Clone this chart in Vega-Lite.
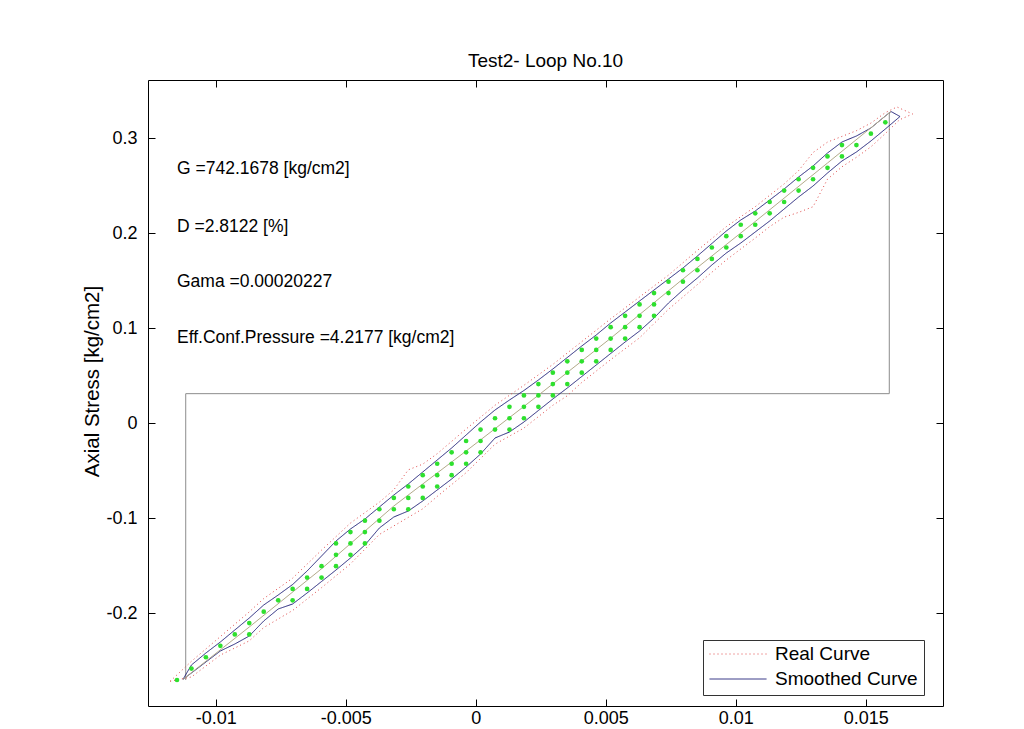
{
"$schema": "https://vega.github.io/schema/vega-lite/v6.json",
"width": 795, "height": 626,
"autosize": {"type": "none"},
"padding": {"left": 148, "top": 80, "right": 81, "bottom": 23},
"background": "white",
"config": {
 "font": "Liberation Sans",
 "view": {"stroke": "#000", "strokeWidth": 1},
 "axis": {"domain": false, "grid": false, "tickColor": "#000", "tickSize": -7, "tickWidth": 1, "labelFontSize": 18, "labelColor": "#000", "labelFont": "Liberation Sans", "titleFontSize": 20.5, "titleFontWeight": "normal", "titleColor": "#000", "titleFont": "Liberation Sans", "labelFlush": false, "labelOverlap": false}
},
"title": {"text": "Test2- Loop No.10", "fontSize": 19, "fontWeight": "normal", "color": "#000", "font": "Liberation Sans", "offset": 9, "anchor": "middle"},
"datasets": {
 "step": [
  {"o": 0, "x": -0.011154, "y": -0.2702},
  {"o": 1, "x": -0.011154, "y": 0.0312},
  {"o": 2, "x": 0.015906, "y": 0.0312},
  {"o": 3, "x": 0.015906, "y": 0.3277}
 ],
 "loop": [
  {"series": "Real Curve", "o": 0, "x": -0.01175, "y": -0.2715},
  {"series": "Real Curve", "o": 1, "x": -0.010934, "y": -0.2505},
  {"series": "Real Curve", "o": 2, "x": -0.009822, "y": -0.2245},
  {"series": "Real Curve", "o": 3, "x": -0.00871, "y": -0.1985},
  {"series": "Real Curve", "o": 4, "x": -0.008154, "y": -0.1845},
  {"series": "Real Curve", "o": 5, "x": -0.007042, "y": -0.163},
  {"series": "Real Curve", "o": 6, "x": -0.00593, "y": -0.1335},
  {"series": "Real Curve", "o": 7, "x": -0.004818, "y": -0.105},
  {"series": "Real Curve", "o": 8, "x": -0.003706, "y": -0.083},
  {"series": "Real Curve", "o": 9, "x": -0.00315, "y": -0.07},
  {"series": "Real Curve", "o": 10, "x": -0.002594, "y": -0.049},
  {"series": "Real Curve", "o": 11, "x": -0.002038, "y": -0.043},
  {"series": "Real Curve", "o": 12, "x": -0.001482, "y": -0.032},
  {"series": "Real Curve", "o": 13, "x": -0.00037, "y": -0.006},
  {"series": "Real Curve", "o": 14, "x": 0.000742, "y": 0.019},
  {"series": "Real Curve", "o": 15, "x": 0.001854, "y": 0.04},
  {"series": "Real Curve", "o": 16, "x": 0.002966, "y": 0.062},
  {"series": "Real Curve", "o": 17, "x": 0.004078, "y": 0.086},
  {"series": "Real Curve", "o": 18, "x": 0.00519, "y": 0.11},
  {"series": "Real Curve", "o": 19, "x": 0.006302, "y": 0.133},
  {"series": "Real Curve", "o": 20, "x": 0.007414, "y": 0.156},
  {"series": "Real Curve", "o": 21, "x": 0.008526, "y": 0.182},
  {"series": "Real Curve", "o": 22, "x": 0.009638, "y": 0.207},
  {"series": "Real Curve", "o": 23, "x": 0.01075, "y": 0.228},
  {"series": "Real Curve", "o": 24, "x": 0.011862, "y": 0.252},
  {"series": "Real Curve", "o": 25, "x": 0.012418, "y": 0.266},
  {"series": "Real Curve", "o": 26, "x": 0.012974, "y": 0.285},
  {"series": "Real Curve", "o": 27, "x": 0.01353, "y": 0.296},
  {"series": "Real Curve", "o": 28, "x": 0.014086, "y": 0.302},
  {"series": "Real Curve", "o": 29, "x": 0.014642, "y": 0.308},
  {"series": "Real Curve", "o": 30, "x": 0.015198, "y": 0.316},
  {"series": "Real Curve", "o": 31, "x": 0.015754, "y": 0.327},
  {"series": "Real Curve", "o": 32, "x": 0.0162, "y": 0.333},
  {"series": "Real Curve", "o": 33, "x": 0.0168, "y": 0.3256},
  {"series": "Real Curve", "o": 34, "x": 0.0163, "y": 0.3195},
  {"series": "Real Curve", "o": 35, "x": 0.015754, "y": 0.305},
  {"series": "Real Curve", "o": 36, "x": 0.015198, "y": 0.291},
  {"series": "Real Curve", "o": 37, "x": 0.014642, "y": 0.28},
  {"series": "Real Curve", "o": 38, "x": 0.014086, "y": 0.27},
  {"series": "Real Curve", "o": 39, "x": 0.01353, "y": 0.257},
  {"series": "Real Curve", "o": 40, "x": 0.012974, "y": 0.228},
  {"series": "Real Curve", "o": 41, "x": 0.012418, "y": 0.222},
  {"series": "Real Curve", "o": 42, "x": 0.011862, "y": 0.217},
  {"series": "Real Curve", "o": 43, "x": 0.011306, "y": 0.207},
  {"series": "Real Curve", "o": 44, "x": 0.01075, "y": 0.195},
  {"series": "Real Curve", "o": 45, "x": 0.009638, "y": 0.172},
  {"series": "Real Curve", "o": 46, "x": 0.008526, "y": 0.146},
  {"series": "Real Curve", "o": 47, "x": 0.007414, "y": 0.12},
  {"series": "Real Curve", "o": 48, "x": 0.006302, "y": 0.09},
  {"series": "Real Curve", "o": 49, "x": 0.00519, "y": 0.067},
  {"series": "Real Curve", "o": 50, "x": 0.004078, "y": 0.043},
  {"series": "Real Curve", "o": 51, "x": 0.003522, "y": 0.029},
  {"series": "Real Curve", "o": 52, "x": 0.002966, "y": 0.019},
  {"series": "Real Curve", "o": 53, "x": 0.001854, "y": -0.005},
  {"series": "Real Curve", "o": 54, "x": 0.000742, "y": -0.022},
  {"series": "Real Curve", "o": 55, "x": -0.00037, "y": -0.052},
  {"series": "Real Curve", "o": 56, "x": -0.001482, "y": -0.077},
  {"series": "Real Curve", "o": 57, "x": -0.002038, "y": -0.09},
  {"series": "Real Curve", "o": 58, "x": -0.002594, "y": -0.099},
  {"series": "Real Curve", "o": 59, "x": -0.003706, "y": -0.117},
  {"series": "Real Curve", "o": 60, "x": -0.004818, "y": -0.148},
  {"series": "Real Curve", "o": 61, "x": -0.00593, "y": -0.173},
  {"series": "Real Curve", "o": 62, "x": -0.007042, "y": -0.197},
  {"series": "Real Curve", "o": 63, "x": -0.008154, "y": -0.215},
  {"series": "Real Curve", "o": 64, "x": -0.00871, "y": -0.229},
  {"series": "Real Curve", "o": 65, "x": -0.009822, "y": -0.244},
  {"series": "Real Curve", "o": 66, "x": -0.010934, "y": -0.267},
  {"series": "Real Curve", "o": 67, "x": -0.01175, "y": -0.2715},
  {"series": "Smoothed Curve", "o": 0, "x": -0.011258, "y": -0.26947},
  {"series": "Smoothed Curve", "o": 1, "x": -0.010934, "y": -0.25442},
  {"series": "Smoothed Curve", "o": 2, "x": -0.010378, "y": -0.24179},
  {"series": "Smoothed Curve", "o": 3, "x": -0.009822, "y": -0.23021},
  {"series": "Smoothed Curve", "o": 4, "x": -0.009266, "y": -0.21758},
  {"series": "Smoothed Curve", "o": 5, "x": -0.00871, "y": -0.20495},
  {"series": "Smoothed Curve", "o": 6, "x": -0.008154, "y": -0.19126},
  {"series": "Smoothed Curve", "o": 7, "x": -0.007598, "y": -0.18074},
  {"series": "Smoothed Curve", "o": 8, "x": -0.007042, "y": -0.16968},
  {"series": "Smoothed Curve", "o": 9, "x": -0.006486, "y": -0.15547},
  {"series": "Smoothed Curve", "o": 10, "x": -0.00593, "y": -0.13968},
  {"series": "Smoothed Curve", "o": 11, "x": -0.005374, "y": -0.12389},
  {"series": "Smoothed Curve", "o": 12, "x": -0.004818, "y": -0.11126},
  {"series": "Smoothed Curve", "o": 13, "x": -0.004262, "y": -0.10074},
  {"series": "Smoothed Curve", "o": 14, "x": -0.003706, "y": -0.08811},
  {"series": "Smoothed Curve", "o": 15, "x": -0.00315, "y": -0.07547},
  {"series": "Smoothed Curve", "o": 16, "x": -0.002594, "y": -0.06389},
  {"series": "Smoothed Curve", "o": 17, "x": -0.002038, "y": -0.05126},
  {"series": "Smoothed Curve", "o": 18, "x": -0.001482, "y": -0.03863},
  {"series": "Smoothed Curve", "o": 19, "x": -0.000926, "y": -0.026},
  {"series": "Smoothed Curve", "o": 20, "x": -0.00037, "y": -0.01232},
  {"series": "Smoothed Curve", "o": 21, "x": 0.000186, "y": 0.00137},
  {"series": "Smoothed Curve", "o": 22, "x": 0.000742, "y": 0.014},
  {"series": "Smoothed Curve", "o": 23, "x": 0.001298, "y": 0.02453},
  {"series": "Smoothed Curve", "o": 24, "x": 0.001854, "y": 0.03453},
  {"series": "Smoothed Curve", "o": 25, "x": 0.00241, "y": 0.04558},
  {"series": "Smoothed Curve", "o": 26, "x": 0.002966, "y": 0.05716},
  {"series": "Smoothed Curve", "o": 27, "x": 0.003522, "y": 0.06926},
  {"series": "Smoothed Curve", "o": 28, "x": 0.004078, "y": 0.08137},
  {"series": "Smoothed Curve", "o": 29, "x": 0.004634, "y": 0.09295},
  {"series": "Smoothed Curve", "o": 30, "x": 0.00519, "y": 0.10558},
  {"series": "Smoothed Curve", "o": 31, "x": 0.005746, "y": 0.11716},
  {"series": "Smoothed Curve", "o": 32, "x": 0.006302, "y": 0.12874},
  {"series": "Smoothed Curve", "o": 33, "x": 0.006858, "y": 0.14032},
  {"series": "Smoothed Curve", "o": 34, "x": 0.007414, "y": 0.15189},
  {"series": "Smoothed Curve", "o": 35, "x": 0.00797, "y": 0.16347},
  {"series": "Smoothed Curve", "o": 36, "x": 0.008526, "y": 0.17611},
  {"series": "Smoothed Curve", "o": 37, "x": 0.009082, "y": 0.18926},
  {"series": "Smoothed Curve", "o": 38, "x": 0.009638, "y": 0.20242},
  {"series": "Smoothed Curve", "o": 39, "x": 0.010194, "y": 0.214},
  {"series": "Smoothed Curve", "o": 40, "x": 0.01075, "y": 0.22347},
  {"series": "Smoothed Curve", "o": 41, "x": 0.011306, "y": 0.23505},
  {"series": "Smoothed Curve", "o": 42, "x": 0.011862, "y": 0.24663},
  {"series": "Smoothed Curve", "o": 43, "x": 0.012418, "y": 0.25926},
  {"series": "Smoothed Curve", "o": 44, "x": 0.012974, "y": 0.27084},
  {"series": "Smoothed Curve", "o": 45, "x": 0.01353, "y": 0.28453},
  {"series": "Smoothed Curve", "o": 46, "x": 0.014086, "y": 0.29611},
  {"series": "Smoothed Curve", "o": 47, "x": 0.014642, "y": 0.30242},
  {"series": "Smoothed Curve", "o": 48, "x": 0.015198, "y": 0.31084},
  {"series": "Smoothed Curve", "o": 49, "x": 0.015754, "y": 0.32347},
  {"series": "Smoothed Curve", "o": 50, "x": 0.015972, "y": 0.32821},
  {"series": "Smoothed Curve", "o": 51, "x": 0.016318, "y": 0.32295},
  {"series": "Smoothed Curve", "o": 52, "x": 0.015754, "y": 0.30979},
  {"series": "Smoothed Curve", "o": 53, "x": 0.015198, "y": 0.29716},
  {"series": "Smoothed Curve", "o": 54, "x": 0.014642, "y": 0.28558},
  {"series": "Smoothed Curve", "o": 55, "x": 0.014086, "y": 0.27611},
  {"series": "Smoothed Curve", "o": 56, "x": 0.01353, "y": 0.26347},
  {"series": "Smoothed Curve", "o": 57, "x": 0.012974, "y": 0.24979},
  {"series": "Smoothed Curve", "o": 58, "x": 0.012418, "y": 0.23821},
  {"series": "Smoothed Curve", "o": 59, "x": 0.011862, "y": 0.22558},
  {"series": "Smoothed Curve", "o": 60, "x": 0.011306, "y": 0.21295},
  {"series": "Smoothed Curve", "o": 61, "x": 0.01075, "y": 0.20137},
  {"series": "Smoothed Curve", "o": 62, "x": 0.010194, "y": 0.18979},
  {"series": "Smoothed Curve", "o": 63, "x": 0.009638, "y": 0.17926},
  {"series": "Smoothed Curve", "o": 64, "x": 0.009082, "y": 0.16663},
  {"series": "Smoothed Curve", "o": 65, "x": 0.008526, "y": 0.15295},
  {"series": "Smoothed Curve", "o": 66, "x": 0.00797, "y": 0.14032},
  {"series": "Smoothed Curve", "o": 67, "x": 0.007414, "y": 0.12663},
  {"series": "Smoothed Curve", "o": 68, "x": 0.006858, "y": 0.11084},
  {"series": "Smoothed Curve", "o": 69, "x": 0.006302, "y": 0.09716},
  {"series": "Smoothed Curve", "o": 70, "x": 0.005746, "y": 0.08558},
  {"series": "Smoothed Curve", "o": 71, "x": 0.00519, "y": 0.07347},
  {"series": "Smoothed Curve", "o": 72, "x": 0.004634, "y": 0.06137},
  {"series": "Smoothed Curve", "o": 73, "x": 0.004078, "y": 0.04926},
  {"series": "Smoothed Curve", "o": 74, "x": 0.003522, "y": 0.03716},
  {"series": "Smoothed Curve", "o": 75, "x": 0.002966, "y": 0.02558},
  {"series": "Smoothed Curve", "o": 76, "x": 0.00241, "y": 0.01347},
  {"series": "Smoothed Curve", "o": 77, "x": 0.001854, "y": 0.00137},
  {"series": "Smoothed Curve", "o": 78, "x": 0.001298, "y": -0.00916},
  {"series": "Smoothed Curve", "o": 79, "x": 0.000742, "y": -0.01547},
  {"series": "Smoothed Curve", "o": 80, "x": 0.000186, "y": -0.03232},
  {"series": "Smoothed Curve", "o": 81, "x": -0.00037, "y": -0.046},
  {"series": "Smoothed Curve", "o": 82, "x": -0.000926, "y": -0.05863},
  {"series": "Smoothed Curve", "o": 83, "x": -0.001482, "y": -0.07021},
  {"series": "Smoothed Curve", "o": 84, "x": -0.002038, "y": -0.08179},
  {"series": "Smoothed Curve", "o": 85, "x": -0.002594, "y": -0.09232},
  {"series": "Smoothed Curve", "o": 86, "x": -0.00315, "y": -0.09863},
  {"series": "Smoothed Curve", "o": 87, "x": -0.003706, "y": -0.11021},
  {"series": "Smoothed Curve", "o": 88, "x": -0.004262, "y": -0.12811},
  {"series": "Smoothed Curve", "o": 89, "x": -0.004818, "y": -0.14179},
  {"series": "Smoothed Curve", "o": 90, "x": -0.005374, "y": -0.15442},
  {"series": "Smoothed Curve", "o": 91, "x": -0.00593, "y": -0.16653},
  {"series": "Smoothed Curve", "o": 92, "x": -0.006486, "y": -0.17863},
  {"series": "Smoothed Curve", "o": 93, "x": -0.007042, "y": -0.19021},
  {"series": "Smoothed Curve", "o": 94, "x": -0.007598, "y": -0.19547},
  {"series": "Smoothed Curve", "o": 95, "x": -0.008154, "y": -0.20811},
  {"series": "Smoothed Curve", "o": 96, "x": -0.00871, "y": -0.22389},
  {"series": "Smoothed Curve", "o": 97, "x": -0.009266, "y": -0.23232},
  {"series": "Smoothed Curve", "o": 98, "x": -0.009822, "y": -0.23968},
  {"series": "Smoothed Curve", "o": 99, "x": -0.010378, "y": -0.25126},
  {"series": "Smoothed Curve", "o": 100, "x": -0.010934, "y": -0.26284},
  {"series": "Smoothed Curve", "o": 101, "x": -0.011258, "y": -0.26947}
 ],
 "mid": [
  {"o": 0, "x": -0.011258, "y": -0.26947},
  {"o": 1, "x": -0.00871, "y": -0.21442},
  {"o": 2, "x": -0.00593, "y": -0.1531},
  {"o": 3, "x": -0.00315, "y": -0.08705},
  {"o": 4, "x": -0.00037, "y": -0.02916},
  {"o": 5, "x": 0.00241, "y": 0.02953},
  {"o": 6, "x": 0.00519, "y": 0.08953},
  {"o": 7, "x": 0.00797, "y": 0.1519},
  {"o": 8, "x": 0.01075, "y": 0.21242},
  {"o": 9, "x": 0.01353, "y": 0.274},
  {"o": 10, "x": 0.015972, "y": 0.32821}
 ],
 "grid": [
  {"x": -0.01149, "y": -0.2702},
  {"x": -0.010934, "y": -0.25822},
  {"x": -0.010378, "y": -0.24624},
  {"x": -0.009822, "y": -0.23426},
  {"x": -0.009266, "y": -0.22228},
  {"x": -0.00871, "y": -0.22228}, {"x": -0.00871, "y": -0.2103},
  {"x": -0.008154, "y": -0.19832},
  {"x": -0.007598, "y": -0.18634},
  {"x": -0.007042, "y": -0.18634}, {"x": -0.007042, "y": -0.17436},
  {"x": -0.006486, "y": -0.17436}, {"x": -0.006486, "y": -0.16238},
  {"x": -0.00593, "y": -0.16238}, {"x": -0.00593, "y": -0.1504},
  {"x": -0.005374, "y": -0.1504}, {"x": -0.005374, "y": -0.13842}, {"x": -0.005374, "y": -0.12644},
  {"x": -0.004818, "y": -0.13842}, {"x": -0.004818, "y": -0.12644}, {"x": -0.004818, "y": -0.11446},
  {"x": -0.004262, "y": -0.12644}, {"x": -0.004262, "y": -0.11446}, {"x": -0.004262, "y": -0.10248},
  {"x": -0.003706, "y": -0.10248}, {"x": -0.003706, "y": -0.0905},
  {"x": -0.00315, "y": -0.0905}, {"x": -0.00315, "y": -0.07852},
  {"x": -0.002594, "y": -0.0905}, {"x": -0.002594, "y": -0.07852}, {"x": -0.002594, "y": -0.06654},
  {"x": -0.002038, "y": -0.07852}, {"x": -0.002038, "y": -0.06654}, {"x": -0.002038, "y": -0.05456},
  {"x": -0.001482, "y": -0.06654}, {"x": -0.001482, "y": -0.05456}, {"x": -0.001482, "y": -0.04258},
  {"x": -0.000926, "y": -0.05456}, {"x": -0.000926, "y": -0.04258}, {"x": -0.000926, "y": -0.0306},
  {"x": -0.00037, "y": -0.04258}, {"x": -0.00037, "y": -0.0306}, {"x": -0.00037, "y": -0.01862},
  {"x": 0.000186, "y": -0.0306}, {"x": 0.000186, "y": -0.01862}, {"x": 0.000186, "y": -0.00664},
  {"x": 0.000742, "y": -0.00664}, {"x": 0.000742, "y": 0.00534},
  {"x": 0.001298, "y": -0.00664}, {"x": 0.001298, "y": 0.00534}, {"x": 0.001298, "y": 0.01732},
  {"x": 0.001854, "y": 0.00534}, {"x": 0.001854, "y": 0.01732}, {"x": 0.001854, "y": 0.0293},
  {"x": 0.00241, "y": 0.01732}, {"x": 0.00241, "y": 0.0293}, {"x": 0.00241, "y": 0.04128},
  {"x": 0.002966, "y": 0.0293}, {"x": 0.002966, "y": 0.04128}, {"x": 0.002966, "y": 0.05326},
  {"x": 0.003522, "y": 0.04128}, {"x": 0.003522, "y": 0.05326}, {"x": 0.003522, "y": 0.06524},
  {"x": 0.004078, "y": 0.05326}, {"x": 0.004078, "y": 0.06524}, {"x": 0.004078, "y": 0.07722},
  {"x": 0.004634, "y": 0.06524}, {"x": 0.004634, "y": 0.07722}, {"x": 0.004634, "y": 0.0892},
  {"x": 0.00519, "y": 0.07722}, {"x": 0.00519, "y": 0.0892}, {"x": 0.00519, "y": 0.10118},
  {"x": 0.005746, "y": 0.0892}, {"x": 0.005746, "y": 0.10118}, {"x": 0.005746, "y": 0.11316},
  {"x": 0.006302, "y": 0.10118}, {"x": 0.006302, "y": 0.11316}, {"x": 0.006302, "y": 0.12514},
  {"x": 0.006858, "y": 0.11316}, {"x": 0.006858, "y": 0.12514}, {"x": 0.006858, "y": 0.13712},
  {"x": 0.007414, "y": 0.13712}, {"x": 0.007414, "y": 0.1491},
  {"x": 0.00797, "y": 0.1491}, {"x": 0.00797, "y": 0.16108},
  {"x": 0.008526, "y": 0.16108}, {"x": 0.008526, "y": 0.17306},
  {"x": 0.009082, "y": 0.17306}, {"x": 0.009082, "y": 0.18504},
  {"x": 0.009638, "y": 0.18504}, {"x": 0.009638, "y": 0.19702},
  {"x": 0.010194, "y": 0.19702}, {"x": 0.010194, "y": 0.209},
  {"x": 0.01075, "y": 0.209}, {"x": 0.01075, "y": 0.22098},
  {"x": 0.011306, "y": 0.22098}, {"x": 0.011306, "y": 0.23296},
  {"x": 0.011862, "y": 0.23296}, {"x": 0.011862, "y": 0.24494},
  {"x": 0.012418, "y": 0.24494}, {"x": 0.012418, "y": 0.25692},
  {"x": 0.012974, "y": 0.25692}, {"x": 0.012974, "y": 0.2689},
  {"x": 0.01353, "y": 0.2689}, {"x": 0.01353, "y": 0.28088},
  {"x": 0.014086, "y": 0.28088}, {"x": 0.014086, "y": 0.29286},
  {"x": 0.014642, "y": 0.29286},
  {"x": 0.015198, "y": 0.30484},
  {"x": 0.015754, "y": 0.31682}
 ],
 "notes": [
  {"x": -0.01149, "y": 0.2674, "label": "G =742.1678 [kg/cm2]"},
  {"x": -0.01149, "y": 0.2069, "label": "D =2.8122 [%]"},
  {"x": -0.01149, "y": 0.1491, "label": "Gama =0.00020227"},
  {"x": -0.01149, "y": 0.0898, "label": "Eff.Conf.Pressure =4.2177 [kg/cm2]"}
 ]
},
"resolve": {"axis": {"x": "independent", "y": "independent"}},
"encoding": {
 "x": {"field": "x", "type": "quantitative", "scale": {"domain": [-0.012605, 0.017972], "nice": false, "zero": false}, "axis": null},
 "y": {"field": "y", "type": "quantitative", "scale": {"domain": [-0.29758, 0.36137], "nice": false, "zero": false}, "axis": null}
},
"layer": [
 {
  "data": {"name": "step"},
  "mark": {"type": "line", "color": "#8c8c8c", "strokeWidth": 1},
  "encoding": {
   "x": {"field": "x", "type": "quantitative", "scale": {"domain": [-0.012605, 0.017972], "nice": false, "zero": false}, "axis": {"orient": "top", "labels": false, "title": null, "values": [-0.01, -0.005, 0, 0.005, 0.01, 0.015]}},
   "y": {"field": "y", "type": "quantitative", "scale": {"domain": [-0.29758, 0.36137], "nice": false, "zero": false}, "axis": {"orient": "right", "labels": false, "title": null, "values": [-0.2, -0.1, 0, 0.1, 0.2, 0.3]}},
   "order": {"field": "o", "type": "quantitative"}
  }
 },
 {
  "data": {"name": "loop"},
  "mark": {"type": "line", "strokeWidth": 1},
  "encoding": {
   "color": {"field": "series", "type": "nominal", "scale": {"domain": ["Real Curve", "Smoothed Curve"], "range": ["#e04848", "#22227a"]},
    "legend": {"title": null, "orient": "none", "legendX": 555, "legendY": 560, "symbolType": "stroke", "symbolSize": 3249, "symbolStrokeWidth": 1, "clipHeight": 16, "rowPadding": 6, "padding": 6, "labelFontSize": 19, "labelFont": "Liberation Sans", "labelColor": "#000", "labelOffset": 8, "labelLimit": 0, "fillColor": "#ffffff", "strokeColor": "#333333"}},
   "strokeDash": {"field": "series", "type": "nominal", "scale": {"domain": ["Real Curve", "Smoothed Curve"], "range": [[1, 3], [1, 0]]},
    "legend": {"title": null, "orient": "none", "legendX": 555, "legendY": 560, "symbolType": "stroke", "symbolSize": 3249, "symbolStrokeWidth": 1, "clipHeight": 16, "rowPadding": 6, "padding": 6, "labelFontSize": 19, "labelFont": "Liberation Sans", "labelColor": "#000", "labelOffset": 8, "labelLimit": 0, "fillColor": "#ffffff", "strokeColor": "#333333"}},
   "order": {"field": "o", "type": "quantitative"}
  }
 },
 {
  "data": {"name": "mid"},
  "mark": {"type": "line", "color": "#b3aa8a", "strokeWidth": 1},
  "encoding": {"order": {"field": "o", "type": "quantitative"}}
 },
 {
  "data": {"name": "grid"},
  "mark": {"type": "point", "filled": true, "shape": "circle", "size": 22, "color": "#2ee02e", "opacity": 1},
  "encoding": {
   "x": {"field": "x", "type": "quantitative", "scale": {"domain": [-0.012605, 0.017972], "nice": false, "zero": false}, "axis": {"orient": "bottom", "title": null, "values": [-0.01, -0.005, 0, 0.005, 0.01, 0.015], "labelExpr": "'' + datum.value", "labelPadding": 10}},
   "y": {"field": "y", "type": "quantitative", "scale": {"domain": [-0.29758, 0.36137], "nice": false, "zero": false}, "axis": {"orient": "left", "title": "Axial Stress [kg/cm2]", "titlePadding": 3, "titleY": 301, "values": [-0.2, -0.1, 0, 0.1, 0.2, 0.3], "labelExpr": "'' + datum.value", "labelPadding": 18}}
  }
 },
 {
  "data": {"name": "notes"},
  "mark": {"type": "text", "align": "left", "baseline": "middle", "fontSize": 17.5, "color": "#000", "font": "Liberation Sans"},
  "encoding": {"text": {"field": "label"}}
 }
]
}
